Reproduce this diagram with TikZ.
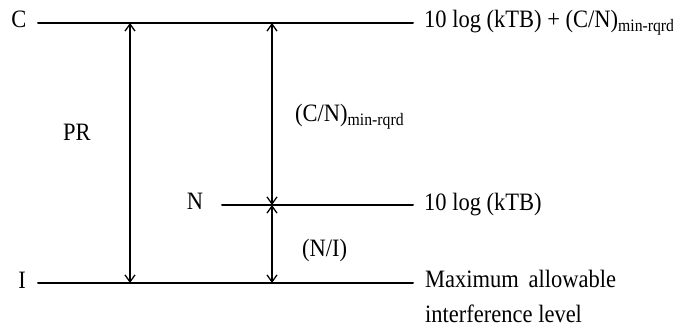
\documentclass[tikz,border=0pt]{standalone}
\usepackage{fontspec}
\setmainfont{Liberation Serif}[FakeStretch=0.9]
\usetikzlibrary{arrows.meta}

\begin{document}
\begin{tikzpicture}[x=1pt, y=1pt, line cap=round,
    level/.style={line width=2pt},
    gap/.style={line width=1.3pt, {Straight Barb[length=7pt,width=10pt]}-{Straight Barb[length=7pt,width=10pt]}},
    lbl/.style={font=\fontsize{25}{35}\selectfont, inner sep=0pt}]
  \useasboundingbox (0,0) rectangle (673,329);
  % niveles
  \coordinate (c0) at (38,306); \coordinate (c1) at (413,306);
  \coordinate (n0) at (222,124); \coordinate (n1) at (413,124);
  \coordinate (i0) at (38,46);   \coordinate (i1) at (413,46);
  \draw[level] (c0) -- (c1);
  \draw[level] (n0) -- (n1);
  \draw[level] (i0) -- (i1);
  % flechas
  \coordinate (prT) at (130,306); \coordinate (prB) at (130,46);
  \coordinate (cnT) at (272,306); \coordinate (cnM) at (272,124);
  \coordinate (cnB) at (272,46);
  \draw[gap] (prT) -- (prB);
  \draw[gap] (cnT) -- (cnM);
  \draw[gap] (cnM) -- (cnB);
  % textos de la izquierda
  \node[lbl, anchor=base] (cLbl) at (19,301) {C};
  \node[lbl, anchor=base] (iLbl) at (22,40) {I};
  \node[lbl, anchor=base] (nLbl) at (195,119) {N};
  \node[lbl, anchor=base] (prLbl) at (77,188) {PR};
  \node[lbl, anchor=base west] (cnLbl) at (295,207) {(C/N)\textsubscript{min-rqrd}};
  \node[lbl, anchor=base west] (niLbl) at (302,72) {(N/I)};
  % textos de la derecha
  \node[lbl, anchor=base west] (topLbl) at (424,301) {10 log (kTB) + (C/N)\textsubscript{min-rqrd}};
  \node[lbl, anchor=base west] (midLbl) at (424,118) {10 log (kTB)};
  \node[lbl, anchor=base west, align=left] (botLbl) at (425,6) {Maximum\, allowable\\interference level};
\end{tikzpicture}
\end{document}
